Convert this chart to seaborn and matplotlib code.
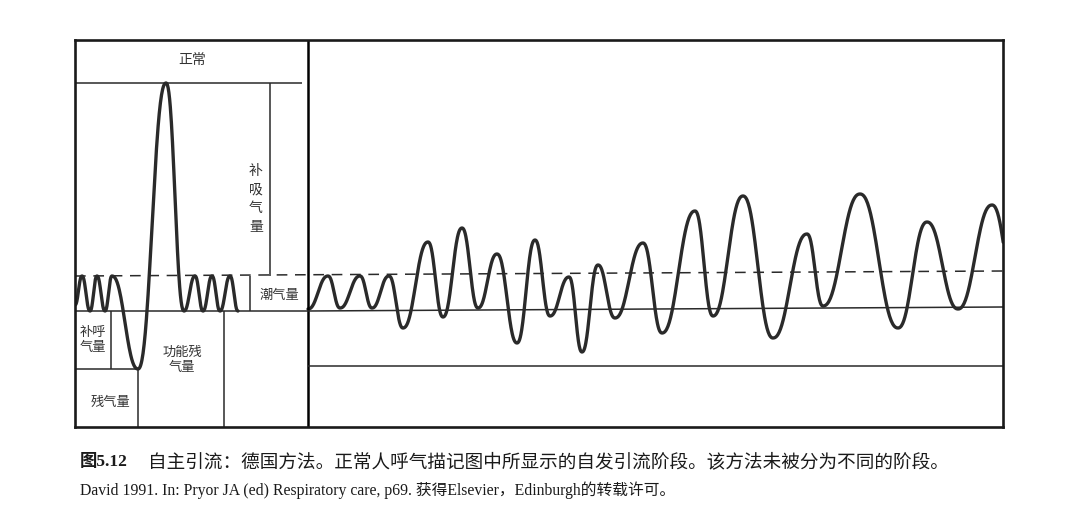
import numpy as np
import pandas as pd
import matplotlib
matplotlib.use("Agg")
import matplotlib.pyplot as plt
import seaborn as sns

# ---------------- data (time units, volume units) ----------------
# volume levels
RV_LEVEL = 58          # residual volume top
FRC_LEVEL = 116        # functional residual capacity (end-expiratory)
TIDAL_TOP = 151        # end-inspiratory tidal level (dashed)
TLC_LEVEL = 344        # total lung capacity
LOW_LINE = 61          # lower reference line, right panel
FRAME_TOP = 387
FRAME_RIGHT = 928
DIVIDER = 233

# normal spirogram: turning points of the trace
normal_t = [0, 7, 15, 22, 30, 37, 63, 91, 109, 120, 128, 137, 145, 155, 163]
normal_v = [122, 151, 116, 151, 116, 151, 58, 344, 116, 151, 116, 151, 116, 151, 116]

# autogenic drainage spirogram: turning points of the trace
ad_t = [233, 253, 265, 285, 297, 314, 328, 353, 368, 387, 403, 422, 442, 460,
        475, 494, 507, 523, 540, 568, 587, 620, 638, 668, 698, 732, 748, 785,
        823, 852, 883, 917, 945]
ad_v = [118, 151, 119, 151, 119, 151, 99, 185, 110, 199, 119, 173, 84, 187,
        111, 150, 75, 162, 109, 184, 94, 216, 111, 231, 89, 193, 121, 233,
        99, 205, 118, 222, 107]

labels_cn = {
    "normal": "正常",
    "irv": "补\n吸\n气\n量",
    "tv": "潮气量",
    "erv": "补呼\n气量",
    "frc": "功能残\n气量",
    "rv": "残气量",
}
caption_tag = "图5.12"
caption_main = "自主引流：德国方法。正常人呼气描记图中所显示的自发引流阶段。该方法未被分为不同的阶段。"
caption_src = "David 1991. In: Pryor JA (ed) Respiratory care, p69. 获得Elsevier，Edinburgh的转载许可。"


def smooth_trace(tx, ty, n=50):
    xs, ys = [], []
    for i in range(len(tx) - 1):
        u = np.linspace(0, 1, n, endpoint=False)
        s_cos = (1 - np.cos(np.pi * u)) / 2
        s_flat = u - np.sin(2 * np.pi * u) / (2 * np.pi)
        s = 0.45 * s_cos + 0.55 * s_flat
        xs.append(tx[i] + (tx[i + 1] - tx[i]) * u)
        ys.append(ty[i] + (ty[i + 1] - ty[i]) * s)
    xs.append([tx[-1]])
    ys.append([ty[-1]])
    return np.concatenate(xs), np.concatenate(ys)


nx, ny = smooth_trace(normal_t, normal_v)
axx, axy = smooth_trace(ad_t, ad_v)
df_normal = pd.DataFrame({"t": nx, "v": ny})
df_ad = pd.DataFrame({"t": axx, "v": axy})

# ---------------- figure ----------------
sns.set_theme(style="white")
plt.rcParams["font.family"] = ["Noto Sans CJK SC", "DejaVu Sans"]

fig = plt.figure(figsize=(10.8, 5.25), dpi=100)
fig.patch.set_facecolor("white")
ax = fig.add_axes([75 / 1080, 98 / 525, 928 / 1080, 387 / 525])
ax.set_xlim(0, FRAME_RIGHT)
ax.set_ylim(0, FRAME_TOP)
ax.set_xticks([])
ax.set_yticks([])
for sp in ax.spines.values():
    sp.set_color("#1a1a1a")
    sp.set_linewidth(1.9)

lc = "#2a2a2a"
# traces
sns.lineplot(data=df_normal, x="t", y="v", sort=False, estimator=None,
             color=lc, linewidth=2.4, ax=ax)
sns.lineplot(data=df_ad, x="t", y="v", sort=False, estimator=None,
             color=lc, linewidth=2.4, ax=ax)

# reference lines
ax.vlines(DIVIDER, 0, FRAME_TOP, color="black", linewidth=1.8)
ax.hlines(TLC_LEVEL, 0, 227, color=lc, linewidth=1.1)
ax.vlines(195, TIDAL_TOP, TLC_LEVEL, color=lc, linewidth=1.1)
ax.plot([0, FRAME_RIGHT], [TIDAL_TOP, TIDAL_TOP + 5], color=lc, linewidth=1.1,
        linestyle=(0, (7, 5)))
ax.plot([0, DIVIDER, FRAME_RIGHT], [FRC_LEVEL, FRC_LEVEL, FRC_LEVEL + 4],
        color=lc, linewidth=1.1)
ax.vlines(175, FRC_LEVEL, TIDAL_TOP, color=lc, linewidth=1.1)
ax.vlines(36, RV_LEVEL, FRC_LEVEL, color=lc, linewidth=1.1)
ax.hlines(RV_LEVEL, 0, 63, color=lc, linewidth=1.1)
ax.vlines(63, 0, RV_LEVEL, color=lc, linewidth=1.1)
ax.vlines(149, 0, FRC_LEVEL, color=lc, linewidth=1.1)
ax.hlines(LOW_LINE, DIVIDER, FRAME_RIGHT, color=lc, linewidth=1.1)

tc = "#333333"
ax.text(117, 367, labels_cn["normal"], ha="center", va="center", fontsize=10, color=tc)
ax.text(181, 228, labels_cn["irv"], ha="center", va="center", fontsize=10,
        color=tc, linespacing=1.45)
ax.text(204, 131, labels_cn["tv"], ha="center", va="center", fontsize=9.5, color=tc)
ax.text(18, 87, labels_cn["erv"], ha="center", va="center", fontsize=9.5,
        color=tc, linespacing=1.2)
ax.text(107, 67, labels_cn["frc"], ha="center", va="center", fontsize=9.5,
        color=tc, linespacing=1.2)
ax.text(35, 25, labels_cn["rv"], ha="center", va="center", fontsize=9.5, color=tc)

# caption
fig.text(80 / 1080, 1 - 462 / 525, caption_tag, ha="left", va="center",
         fontsize=12.5, fontweight="bold", color="#1a1a1a",
         family=["Liberation Serif", "Noto Sans CJK SC"])
fig.text(148 / 1080, 1 - 462 / 525, caption_main, ha="left", va="center",
         fontsize=13.4, color="#1a1a1a", family=["Noto Sans CJK SC", "DejaVu Sans"])
fig.text(80 / 1080, 1 - 490 / 525, caption_src, ha="left", va="center",
         fontsize=11.3, color="#1a1a1a", family=["Liberation Serif", "Noto Sans CJK SC"])

fig.savefig("out.png", dpi=100, facecolor="white")
